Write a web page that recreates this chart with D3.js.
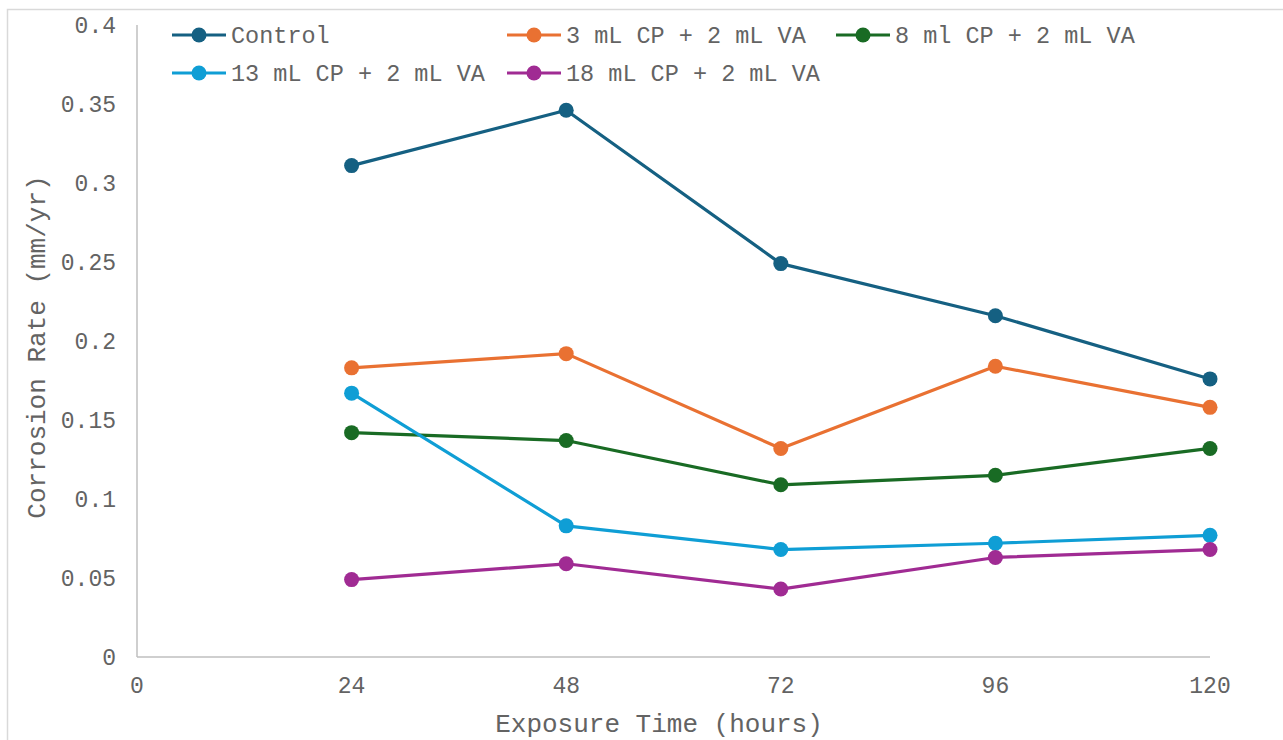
<!DOCTYPE html>
<html>
<head>
<meta charset="utf-8">
<script src="https://cdn.jsdelivr.net/npm/d3@7/dist/d3.min.js"></script>
<style>
  html, body { margin: 0; padding: 0; background: #fff; overflow: hidden; }
  svg { display: block; }
  text { font-family: "Liberation Mono", "Courier New", monospace; fill: #636363; }
</style>
</head>
<body>
<svg id="chart" width="1283" height="740"></svg>
<script>
// Exposure times (hours)
const hours = [24, 48, 72, 96, 120];

// Corrosion rate (mm/yr) per treatment
const seriesNames = [
  "Control",
  "3 mL CP + 2 mL VA",
  "8 ml CP + 2 mL VA",
  "13 mL CP + 2 mL VA",
  "18 mL CP + 2 mL VA"
];
const control = [0.311, 0.346, 0.249, 0.216, 0.176];
const cp3     = [0.183, 0.192, 0.132, 0.184, 0.158];
const cp8     = [0.142, 0.137, 0.109, 0.115, 0.132];
const cp13    = [0.167, 0.083, 0.068, 0.072, 0.077];
const cp18    = [0.049, 0.059, 0.043, 0.063, 0.068];

const xTicks = [0, 24, 48, 72, 96, 120];
const yTicks = [0, 0.05, 0.1, 0.15, 0.2, 0.25, 0.3, 0.35, 0.4];
const yTickLabels = ["0", "0.05", "0.1", "0.15", "0.2", "0.25", "0.3", "0.35", "0.4"];

const colors = ["#156082", "#E97132", "#196B24", "#0F9ED5", "#A02B93"];
const allSeries = [control, cp3, cp8, cp13, cp18];

const svg = d3.select("#chart");

// outer chart frame
svg.append("rect")
  .attr("x", 7.5).attr("y", 9.5)
  .attr("width", 1300).attr("height", 760)
  .attr("fill", "none").attr("stroke", "#d9d9d9").attr("stroke-width", 1.5);

const x = d3.scaleLinear().domain([0, 120]).range([137, 1210]);
const y = d3.scaleLinear().domain([0, 0.4]).range([657, 25]);

// axes lines
svg.append("line")
  .attr("x1", x(0)).attr("x2", x(0)).attr("y1", y(0.4)).attr("y2", y(0))
  .attr("stroke", "#bfbfbf").attr("stroke-width", 1.5);
svg.append("line")
  .attr("x1", x(0)).attr("x2", x(120)).attr("y1", y(0)).attr("y2", y(0))
  .attr("stroke", "#bfbfbf").attr("stroke-width", 1.5);

// tick labels
svg.selectAll("text.ytick").data(yTicks).enter().append("text")
  .attr("class", "ytick")
  .attr("x", 116).attr("y", d => y(d))
  .attr("dy", "0.36em")
  .attr("text-anchor", "end")
  .attr("font-size", 23)
  .text((d, i) => yTickLabels[i]);

svg.selectAll("text.xtick").data(xTicks).enter().append("text")
  .attr("class", "xtick")
  .attr("x", d => x(d)).attr("y", 693)
  .attr("text-anchor", "middle")
  .attr("font-size", 23)
  .text(d => d);

// axis titles
svg.append("text")
  .attr("x", 659).attr("y", 732)
  .attr("text-anchor", "middle")
  .attr("font-size", 26)
  .text("Exposure Time (hours)");

svg.append("text")
  .attr("transform", "translate(45,347) rotate(-90)")
  .attr("text-anchor", "middle")
  .attr("font-size", 26)
  .text("Corrosion Rate (mm/yr)");

// series lines and markers
const line = d3.line().x((d, i) => x(hours[i])).y(d => y(d));

allSeries.forEach((vals, s) => {
  const g = svg.append("g");
  g.append("path")
    .datum(vals)
    .attr("d", line)
    .attr("fill", "none")
    .attr("stroke", colors[s])
    .attr("stroke-width", 3.2)
    .attr("stroke-linejoin", "round");
  g.selectAll("circle").data(vals).enter().append("circle")
    .attr("cx", (d, i) => x(hours[i]))
    .attr("cy", d => y(d))
    .attr("r", 7.5)
    .attr("fill", colors[s]);
});

// legend
const legendPos = [
  [172, 35], [507, 35], [836, 35],
  [172, 73], [507, 73]
];
seriesNames.forEach((name, s) => {
  const [lx, ly] = legendPos[s];
  const g = svg.append("g");
  g.append("line")
    .attr("x1", lx).attr("x2", lx + 54).attr("y1", ly).attr("y2", ly)
    .attr("stroke", colors[s]).attr("stroke-width", 3.2);
  g.append("circle")
    .attr("cx", lx + 27).attr("cy", ly).attr("r", 7.5)
    .attr("fill", colors[s]);
  g.append("text")
    .attr("x", lx + 59).attr("y", ly)
    .attr("dy", "0.36em")
    .attr("font-size", 23.5)
    .text(name);
});
</script>
</body>
</html>
